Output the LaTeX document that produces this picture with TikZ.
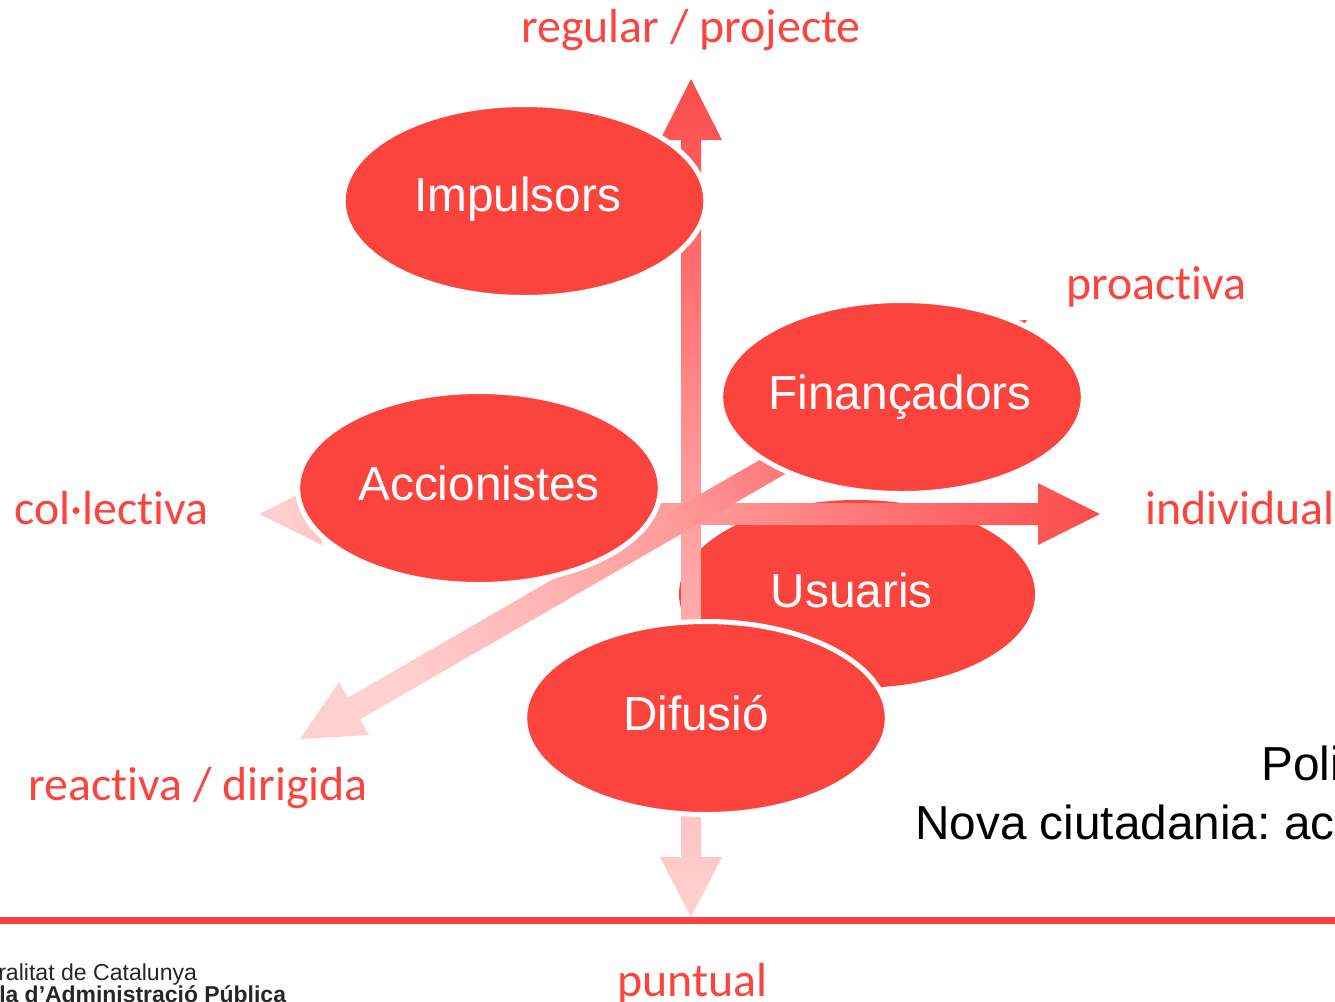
\documentclass[tikz,border=0pt]{standalone}
\usepackage{fontspec}
\setmainfont{Liberation Sans}
\newfontfamily\axisfont[Ligatures=NoCommon]{Carlito}
\usetikzlibrary{shapes.geometric}
\definecolor{ellred}{HTML}{FC443F}
\definecolor{axred}{HTML}{FB4C49}
\definecolor{rampa}{HTML}{FFD0D0}
\definecolor{rampb}{HTML}{FF9A9A}
\definecolor{rampc}{HTML}{FF7070}
\pgfdeclareverticalshading{axramp}{100bp}{color(0bp)=(rampa); color(25bp)=(rampa); color(51.2bp)=(rampb); color(63.1bp)=(rampc); color(75bp)=(axred); color(100bp)=(axred)}
\newcommand\elltext[3]{\makebox[0pt]{\hspace{#1}\raisebox{#2}[0pt][0pt]{#3}}}
\tikzset{
  x=0.75pt,y=-0.75pt,
  blob/.style={ellipse,fill=ellred,draw=white,line width=3.75pt,inner sep=0pt,outer sep=0pt,
    minimum width=272pt,minimum height=144.75pt,text=white,font=\fontsize{35.8pt}{36pt}\selectfont},
  axislabel/.style={anchor=base west,inner sep=0pt,text=ellred,font=\axisfont\fontsize{35.9pt}{36pt}\selectfont},
  blacktext/.style={anchor=base west,inner sep=0pt,text=black,font=\fontsize{35.8pt}{36pt}\selectfont},
  logotext/.style={anchor=base west,inner sep=0pt,text=black!85,font=\fontsize{17.3pt}{18pt}\selectfont},
}
\frenchspacing
\begin{document}
\begin{tikzpicture}
\useasboundingbox (0,0) rectangle (1335,1001);
% Usuaris lies under the axes
\node[blob,draw=none,minimum width=267pt,minimum height=141pt] (usu) at (857,594) {\elltext{-8pt}{-9.75pt}{Usuaris}};
% horizontal axis
\shade[shading=axramp,shading angle=-90]
  (259,514) -- (322,483) -- (322,503) -- (1038,503) -- (1038,483) -- (1100,514)
  -- (1038,545) -- (1038,525) -- (322,525) -- (322,545) -- cycle;
% vertical axis
\shade[shading=axramp]
  (691,79) -- (722,140) -- (701,140) -- (701,857) -- (722,857) -- (691,917)
  -- (660,857) -- (681,857) -- (681,140) -- (660,140) -- cycle;
% depth axis
\shade[shading=axramp,shading angle=-60]
  (300,739) -- (339,682) -- (347.8,697.7) -- (967.1,340.2) -- (958,324.5) -- (1027,320)
  -- (988.6,377.5) -- (979.5,361.8) -- (360.2,719.3) -- (369,735) -- cycle;
% ellipses over the axes
\node[blob] (imp) at (524.5,201) {\elltext{-10.5pt}{-7.5pt}{Impulsors}};
\node[blob] (acc) at (479,488) {\elltext{0pt}{-9pt}{Accionistes}};
\node[blob] (fin) at (902,397) {\elltext{-3pt}{-9pt}{Finançadors}};
\node[blob] (dif) at (706,718) {\elltext{-15pt}{-9pt}{Difusió}};
% labels
\node[axislabel] (l1) at (521,42) {regular / projecte};
\node[axislabel] (l2) at (1066,299) {proactiva};
\node[axislabel] (l3) at (14,524) {col·lectiva};
\node[axislabel] (l4) at (1145,524) {individual};
\node[axislabel] (l5) at (28,800) {reactiva / dirigida};
\node[axislabel] (l6) at (617,996) {puntual};
\node[blacktext] (t1) at (1261,780) {Poli};
\node[blacktext] (t2) at (915,839) {Nova ciutadania: ac};
% footer
\fill[ellred] (0,917) rectangle (1335,924);
\node[logotext] (g1) at (-2,980) {ralitat de Catalunya};
\node[logotext,font=\bfseries\fontsize{17.2pt}{18pt}\selectfont] (g2) at (-1,1002) {la d’Administració Pública};
\end{tikzpicture}
\end{document}
